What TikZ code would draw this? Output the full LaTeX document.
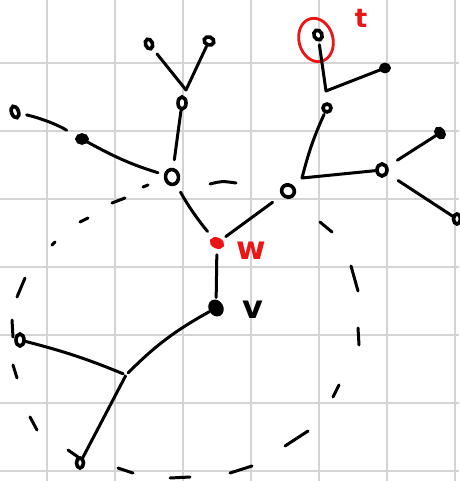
\documentclass[tikz,border=0pt]{standalone}
\usepackage{fontspec}
\setsansfont{DejaVu Sans}
\usetikzlibrary{shapes.geometric}
\definecolor{gridgray}{RGB}{212,212,212}
\definecolor{inkred}{RGB}{236,20,20}
\tikzset{
  ink/.style={line width=3pt, line cap=round, line join=round, black},
  vtx/.style={draw=black, line width=3.6pt, ellipse, inner sep=0pt, outer sep=0pt, fill=white},
  vtxfill/.style={draw=black, line width=3.6pt, ellipse, inner sep=0pt, outer sep=0pt, fill=black},
  edge/.style={ink},
  dash seg/.style={ink},
  hand/.style={font=\sffamily\bfseries\fontsize{32}{32}\selectfont, inner sep=0pt}
}
\begin{document}
\begin{tikzpicture}[x=1pt,y=-1pt]
\useasboundingbox (0,0) rectangle (459,481);
% background grid
\foreach \gx in {47,115,183,251,319,387,455}
  \draw[gridgray, line width=2pt] (\gx,0) -- (\gx,481);
\foreach \gy in {63,131,199,267,335,403,471}
  \draw[gridgray, line width=2pt] (0,\gy) -- (459,\gy);

% dashed loop
\draw[dash seg] (52,245) -- (55,242);
\draw[dash seg] (80,222) -- (88,218);
\draw[dash seg] (112,203) -- (125,198);
\draw[dash seg] (143,187) -- (148,185);
\draw[dash seg] (210,184) .. controls (222,181) .. (236,183);
\draw[dash seg] (320,222) -- (332,232);
\draw[dash seg] (351,266) -- (358,291);
\draw[dash seg] (358,328) -- (359,345);
\draw[dash seg] (339,385) -- (333,397);
\draw[dash seg] (308,431) -- (285,446);
\draw[dash seg] (252,466) -- (230,473);
\draw[dash seg] (190,477) -- (170,478);
\draw[dash seg] (133,473) -- (118,468);
\draw[dash seg] (37,430) -- (30,417);
\draw[dash seg] (17,378) -- (13,365);
\draw[dash seg] (12,320) -- (13,337);
\draw[dash seg] (25,278) -- (17,297);

% vertices
\node[vtx, minimum width=7pt, minimum height=10pt, rotate=20] (a1) at (149,44) {};
\node[vtx, minimum width=10pt, minimum height=8pt, rotate=-20] (a2) at (209,41) {};
\node[vtx, minimum width=8pt, minimum height=12pt] (a3) at (182,103) {};
\node[vtx, minimum width=13pt, minimum height=15pt, rotate=10] (a4) at (172,177) {};
\node[vtx, minimum width=7pt, minimum height=12pt, rotate=20] (b1) at (15,112) {};
\node[vtxfill, minimum width=10pt, minimum height=8pt] (b2) at (82,139) {};
\node[draw=inkred, fill=inkred, line width=3pt, ellipse, inner sep=0pt, minimum width=12pt, minimum height=8pt, rotate=-25] (w) at (217,243) {};
\node[vtxfill, minimum width=11pt, minimum height=14pt, rotate=30] (v) at (216,308) {};
\node[vtx, minimum width=8pt, minimum height=12pt] (c1) at (20,340) {};
\node[vtx, minimum width=7pt, minimum height=10pt] (c2) at (80,463) {};
\node[vtx, minimum width=8pt, minimum height=10pt, rotate=25] (t) at (318,35) {};
\node[vtxfill, minimum width=8pt, minimum height=7pt] (d1) at (385,68) {};
\node[vtx, minimum width=8pt, minimum height=8pt] (d2) at (327,108) {};
\node[vtx, minimum width=13pt, minimum height=12pt, rotate=-30] (d3) at (288,191) {};
\node[vtx, minimum width=10pt, minimum height=12pt] (d4) at (382,170) {};
\node[vtxfill, minimum width=7pt, minimum height=10pt, rotate=35] (d5) at (440,133) {};
\node[vtx, minimum width=7pt, minimum height=10pt] (d6) at (457,219) {};

% junction points
\coordinate (j1) at (186,90);
\coordinate (j2) at (126,375);
\coordinate (j3) at (326,91);
\coordinate (j4) at (302,178);

% highlight around t
\draw[inkred, line width=2.8pt, rotate around={15:(316,40)}] (316,40) ellipse [x radius=17pt, y radius=22pt];

% connectors
\draw[edge, shorten <=8pt] (a1) -- (j1);
\draw[edge, shorten <=2pt] (a2) -- (j1);
\draw[edge, shorten <=2pt, shorten >=10pt] (a3) -- (a4);
\draw[edge, shorten <=8pt, shorten >=13pt] (b1) to[bend left=8] (b2);
\draw[edge, shorten <=1pt, shorten >=8pt] (b2) to[bend right=6] (a4);
\draw[edge, shorten <=10pt, shorten >=8pt] (a4) to[bend right=5] (w);
\draw[edge, shorten <=6pt, shorten >=4pt] (w) -- (v);
\draw[edge, shorten <=2pt, shorten >=3pt] (v) to[bend right=8] (j2);
\draw[edge, shorten >=3pt] (c1) to[bend left=4] (j2);
\draw[edge, shorten <=1pt, shorten >=1pt] (j2) -- (c2);
\draw[edge] (c2) ++(-12,-13) -- ++(10,7);
\draw[edge, shorten <=5pt] (t) -- (j3) -- (d1);
\draw[edge, shorten <=3pt] (d2) to[bend right=5] (j4);
\draw[edge] (j4) -- (d4);
\draw[edge, shorten <=13pt, shorten >=5pt] (d3) -- (w);
\draw[edge, shorten <=13pt] (d4) -- (d5);
\draw[edge, shorten <=14pt] (d4) -- (d6);

% labels
\node[hand, text=inkred, font=\sffamily\bfseries\fontsize{26}{26}\selectfont] (lt) at (361,18) {t};
\node[hand, text=inkred] (lw) at (251,251) {w};
\node[hand] (lv) at (253,310) {v};
\end{tikzpicture}
\end{document}
